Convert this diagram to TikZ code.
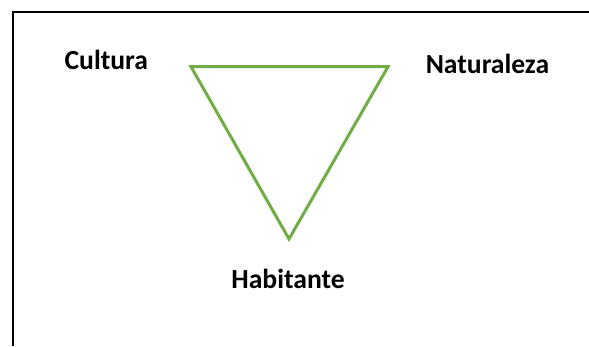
\documentclass[tikz,border=0pt]{standalone}
\usepackage{fontspec}
\setmainfont{Carlito}
\usepackage{tikz}
\usetikzlibrary{positioning}
\usepackage{xcolor}
\definecolor{leafgreen}{HTML}{70AD47}
\tikzset{
  frame/.style={draw=black,line width=1.8pt},
  tri/.style={draw=leafgreen,line width=3pt,line join=miter},
  lbl/.style={font=\fontsize{27.6}{31}\selectfont\bfseries,inner sep=0pt,anchor=base}
}

\begin{document}
\begin{tikzpicture}[x=1pt,y=1pt]
\useasboundingbox (0,0) rectangle (589,346);
\coordinate (tl) at (191,279.3);
\coordinate (tr) at (388,279.3);
\coordinate (bt) at (289,107);
\coordinate (fb) at (13,0);
\coordinate (fc) at (13,334);
\coordinate (fr) at (589,334);
\node[lbl] (cult) at (106.3,276.7) {Cultura};
\node[lbl] (nat) at (487.5,272.7) {Naturaleza};
\node[lbl] (hab) at (288,57.7) {Habitante};
\draw[frame] (fb) -- (fc) -- (fr);
\draw[tri] (tl) -- (tr) -- (bt) -- cycle;
\end{tikzpicture}
\end{document}
